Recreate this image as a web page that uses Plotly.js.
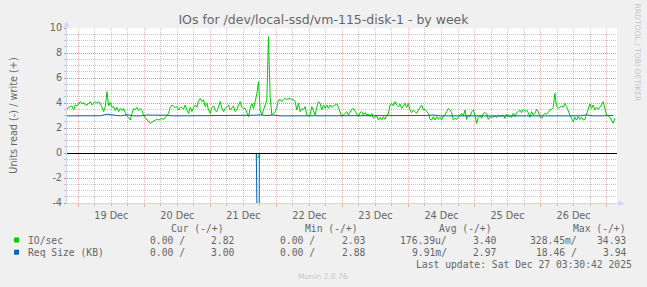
<!DOCTYPE html>
<html><head><meta charset="utf-8">
<script src="https://cdn.plot.ly/plotly-3.0.1.min.js"></script>
<style>html,body{margin:0;padding:0;background:#F0F0F0;}#chart{width:647px;height:287px;}</style>
</head><body><div id="chart"></div>
<script>
// ---------------- data ----------------
const chartTitle = 'IOs for /dev/local-ssd/vm-115-disk-1 - by week';
const yTitle = 'Units read (-) / write (+)';
const rangeStart = '2025-12-18 19:54';
const rangeEnd = '2025-12-27 03:47';
const ioStart = '2025-12-18 19:54';   // first IO/sec sample
const ioStepMin = 36.31;              // minutes between IO/sec samples
const reqStepMin = 145.24;            // minutes between Req Size samples

// IO/sec (write, +)
const ioWrite = [
 3.49,3.65,3.71,3.76,3.44,3.84,3.76,3.97,4.11,3.92,
 4.03,3.84,3.84,3.97,4.11,3.84,4.03,4.11,3.97,4.11,
 3.97,3.65,3.31,3.71,4.91,3.76,4.03,3.65,3.71,3.39,
 3.65,3.31,3.57,3.39,3.57,3.23,2.96,2.83,2.64,3.17,
 3.57,3.44,3.65,3.39,3.57,3.39,3.01,2.83,2.64,2.56,
 2.37,2.48,2.56,2.64,2.69,2.64,2.69,2.77,2.69,2.85,
 3.01,3.17,3.65,3.84,3.71,3.65,3.71,3.44,3.65,3.65,
 3.49,3.84,3.44,3.17,3.65,3.31,3.65,3.84,3.65,4.19,
 4.37,4.11,4.24,3.71,3.97,3.44,3.17,3.65,3.76,3.44,
 3.31,3.65,4.11,3.57,3.31,3.57,3.71,3.84,3.44,3.65,
 3.76,3.31,3.44,3.84,4.11,3.65,3.57,3.57,3.23,2.91,
 3.57,3.97,3.57,4.11,4.72,5.71,3.44,3.04,3.44,3.97,
 4.24,9.31,4.51,3.04,3.17,3.31,3.65,4.24,4.29,4.11,
 4.29,4.37,4.29,4.35,4.37,4.24,4.29,4.11,3.44,3.97,
 3.31,3.57,3.44,3.71,3.04,2.96,3.04,3.71,3.44,3.04,
 3.65,4.11,3.97,3.44,3.84,3.57,3.84,3.57,3.84,3.65,
 3.76,3.84,3.92,3.65,3.31,2.91,3.04,3.17,3.31,3.04,
 3.31,3.49,3.57,3.31,3.17,2.91,3.23,3.31,3.04,3.23,
 3.04,3.12,2.91,3.17,2.77,2.91,2.96,2.64,2.85,2.64,
 2.91,2.69,3.04,3.12,3.84,3.97,3.76,4.11,3.84,3.71,
 3.92,3.57,3.76,3.97,3.65,3.97,3.44,3.23,3.44,3.31,
 3.17,3.44,3.65,3.84,3.44,3.49,3.31,3.17,2.69,2.64,
 2.91,2.64,2.91,2.69,2.85,2.64,2.96,3.04,3.31,3.57,
 3.44,3.23,2.64,2.77,2.69,2.91,3.04,3.17,2.96,3.44,
 2.69,3.04,2.91,3.31,3.44,3.04,2.37,2.85,3.04,2.77,
 3.17,3.23,3.12,2.69,2.91,2.85,2.91,2.96,2.85,3.04,
 2.91,2.96,3.04,2.77,3.12,2.91,2.96,2.85,3.17,2.91,
 3.23,3.31,3.44,3.23,3.49,3.31,3.44,3.23,2.85,3.31,
 3.04,3.17,3.49,3.31,2.91,2.77,3.04,3.17,3.12,3.23,
 3.44,3.49,3.65,4.77,3.71,3.57,3.65,3.76,3.65,3.97,
 3.71,3.31,3.04,2.77,2.51,2.85,2.64,2.91,2.69,2.85,
 2.64,2.69,3.17,3.57,3.92,3.57,3.84,3.44,3.65,3.49,
 3.65,3.84,4.11,3.65,3.04,2.96,2.85,2.64,2.37,2.77
];
// Req Size (KB) (write, +)
const reqWrite = [
 2.97,2.97,2.97,2.97,2.97, 2.98,3.10,3.02,2.97,3.06,
 2.97,2.97,3.04,3.03,3.04, 3.02,2.97,2.97,2.97,2.97,
 2.97,2.97,2.97,2.97,2.97, 2.97,2.97,2.98,3.02,3.05,
 3.00,3.04,2.97,2.97,2.97, 2.97,2.97,2.97,2.97,2.97,
 2.97,2.97,2.97,2.97,2.97, 2.97,2.97,2.97,2.97,2.97,
 2.97,2.97,2.97,2.97,3.00, 3.04,2.97,2.97,2.97,2.97,
 2.97,2.97,2.97,2.97,2.97, 2.97,2.97,2.97,2.97,2.97,
 3.00,2.97,2.97,2.97,2.97, 2.97,2.97,2.97,3.04,2.97,
 2.97,2.97,3.00
];
// read (-) side: zero except around the spike (the zero stretches lie under the black zero rule)
const readTimes = ['2025-12-21 16:42','2025-12-21 16:49','2025-12-21 17:39','2025-12-21 17:48'];
const ioRead  = [0, -0.33, -0.33, 0];
const reqRead = [0, -18.46, -18.46, 0];

const yTickVals = [-4,-2,0,2,4,6,8,10];
const yTickText = ['-4','-2','0','2','4','6','8','10'];

const seriesNames = ['IO/sec', 'Req Size (KB)'];
const seriesColors = ['#00CC00', '#0066B3'];
const legendHeads = ['Cur (-/+)', 'Min (-/+)', 'Avg (-/+)', 'Max (-/+)'];
const legendRead  = [['0.00 /','0.00 /','176.39u/','328.45m/'], ['0.00 /','0.00 /','9.91m/','18.46 /']];
const legendWrite = [['2.82','2.03','3.40','34.93'], ['3.00','2.88','2.97','3.94']];
const lastUpdate = 'Last update: Sat Dec 27 03:30:42 2025';
const watermark = 'Munin 2.0.76';
const sideMark = 'RRDTOOL / TOBI OETIKER';

// ---------------- helpers ----------------
function toStr(ms){ return new Date(ms).toISOString().replace('T',' ').replace('Z',''); }
function parse(s){ const p = s.split(/[- :]/).map(Number); return Date.UTC(p[0],p[1]-1,p[2],p[3]||0,p[4]||0,p[5]||0); }
const ioT0 = parse(ioStart);
const ioX = ioWrite.map((_,i)=>toStr(ioT0 + i*ioStepMin*60000));
const reqX = reqWrite.map((_,i)=>toStr(ioT0 + i*reqStepMin*60000));

const W = 647, H = 287, L = 67, R = 29.5, T = 28, B = 84;
const PW = W - L - R, PH = H - T - B;
const px = x => (x - L)/PW;
const py = y => (H - B - y)/PH;

const FONT = 'DejaVu Sans, sans-serif';
const MONO = 'DejaVu Sans Mono, monospace';
const TXT = '#666666';
const GRID = 'rgba(143,143,143,0.5)';
const MGRID = 'rgba(222,79,79,0.42)';
const AXIS = '#CFD6F8';

const traces = [
 {x: readTimes, y: ioRead, type:'scatter', mode:'lines', line:{color:seriesColors[0], width:1}, hoverinfo:'skip', showlegend:false},
 {x: ioX, y: ioWrite, type:'scatter', mode:'lines', line:{color:seriesColors[0], width:1}, name:seriesNames[0], showlegend:false},
 {x: readTimes, y: reqRead, type:'scatter', mode:'lines', line:{color:seriesColors[1], width:1}, hoverinfo:'skip', showlegend:false},
 {x: reqX, y: reqWrite, type:'scatter', mode:'lines', line:{color:seriesColors[1], width:1}, name:seriesNames[1], showlegend:false}
];

const ann = [];
const shapes = [];
// legend header
const headRight = [225.5, 359, 493, 627.5];
const readRight = [186, 316, 448.5, 578.5];
const writeRight = [235, 366, 497, 628];
legendHeads.forEach((h,k)=>ann.push({text:h, x:px(headRight[k]), y:py(228), xanchor:'right', yanchor:'middle'}));
seriesNames.forEach((n,r)=>{
  const yy = 240 + r*12.2;
  ann.push({text:n, x:px(26.5), y:py(yy), xanchor:'left', yanchor:'middle'});
  shapes.push({type:'rect', xref:'paper', yref:'paper', x0:px(14), x1:px(19), y0:py(yy-2.5), y1:py(yy+2.5), fillcolor:seriesColors[r], line:{width:0}});
  for(let k=0;k<4;k++){
    ann.push({text:legendRead[r][k], x:px(readRight[k]), y:py(yy), xanchor:'right', yanchor:'middle'});
    ann.push({text:legendWrite[r][k], x:px(writeRight[k]), y:py(yy), xanchor:'right', yanchor:'middle'});
  }
});
ann.push({text:lastUpdate, x:px(633.5), y:py(264.5), xanchor:'right', yanchor:'middle'});
ann.forEach(a=>{a.xref='paper'; a.yref='paper'; a.showarrow=false; a.borderpad=0; a.font={family:MONO, size:9.7, color:TXT};});
ann.push({text:watermark, xref:'paper', yref:'paper', x:px(323.5), y:py(276.7), xanchor:'center', yanchor:'middle', showarrow:false, borderpad:0, font:{family:FONT, size:7.6, color:'#c6c6c6'}});
ann.push({text:sideMark, xref:'paper', yref:'paper', x:px(638.5), y:py(53.5), xanchor:'center', yanchor:'middle', textangle:90, showarrow:false, borderpad:0, font:{family:FONT, size:7.6, color:'#c6c6c6'}});

// zero line (pixel-snapped, drawn above the traces)
shapes.push({type:'line', xref:'paper', yref:'y', ysizemode:'pixel', yanchor:0, x0:0, x1:1, y0:-0.5, y1:-0.5, line:{color:'#000000', width:1}, layer:'above'});
// axis extensions and arrows
shapes.push({type:'line', xref:'paper', yref:'paper', x0:px(66.5), x1:px(66.5), y0:py(28), y1:py(24), line:{color:AXIS, width:1}});
shapes.push({type:'path', xref:'paper', yref:'paper', path:`M${px(63.5)},${py(27)} L${px(69.5)},${py(27)} L${px(66.5)},${py(21)} Z`, fillcolor:AXIS, line:{width:0}});
shapes.push({type:'line', xref:'paper', yref:'paper', x0:px(617.5), x1:px(620), y0:py(203.5), y1:py(203.5), line:{color:AXIS, width:1}});
shapes.push({type:'path', xref:'paper', yref:'paper', path:`M${px(619)},${py(200.5)} L${px(619)},${py(206.5)} L${px(625)},${py(203.5)} Z`, fillcolor:AXIS, line:{width:0}});

const layout = {
  width: W, height: H,
  margin: {l:L, r:R, t:T, b:B, pad:0},
  paper_bgcolor:'#F0F0F0', plot_bgcolor:'#FFFFFF',
  showlegend:false,
  title:{text:chartTitle, x:0.5, xref:'container', xanchor:'center', y:1-19.5/H, yref:'container', yanchor:'middle', font:{family:FONT, size:12.5, color:TXT}},
  xaxis:{
    type:'date', range:[rangeStart, rangeEnd], fixedrange:true,
    tickmode:'linear', tick0:'2025-12-19', dtick:86400000, tickformat:'%d %b', ticklabelmode:'period',
    showgrid:true, gridcolor:MGRID, griddash:'1px,1px', gridwidth:1,
    ticks:'outside', ticklen:3, tickcolor:MGRID, tickwidth:1,
    minor:{tick0:'2025-12-19', dtick:21600000, showgrid:true, gridcolor:GRID, griddash:'1px,1px', gridwidth:1, ticks:'outside', ticklen:2, tickcolor:GRID},
    showline:true, linecolor:AXIS, linewidth:1, zeroline:false,
    tickfont:{family:FONT, size:9.7, color:TXT}
  },
  yaxis:{
    range:[-4,10], fixedrange:true,
    tickmode:'array', tickvals:yTickVals, ticktext:yTickText,
    showgrid:true, gridcolor:MGRID, griddash:'1px,1px', gridwidth:1,
    ticks:'outside', ticklen:2, tickcolor:MGRID,
    minor:{tick0:0, dtick:0.5, showgrid:true, gridcolor:GRID, griddash:'1px,1px', gridwidth:1, ticks:'outside', ticklen:2, tickcolor:GRID},
    showline:true, linecolor:AXIS, linewidth:1, zeroline:false,
    tickfont:{family:FONT, size:9.7, color:TXT},
    title:{text:yTitle, font:{family:FONT, size:9.7, color:TXT}, standoff:30}
  },
  annotations: ann,
  shapes: shapes
};
Plotly.newPlot('chart', traces, layout, {staticPlot:true, displayModeBar:false});
</script>
</body></html>
